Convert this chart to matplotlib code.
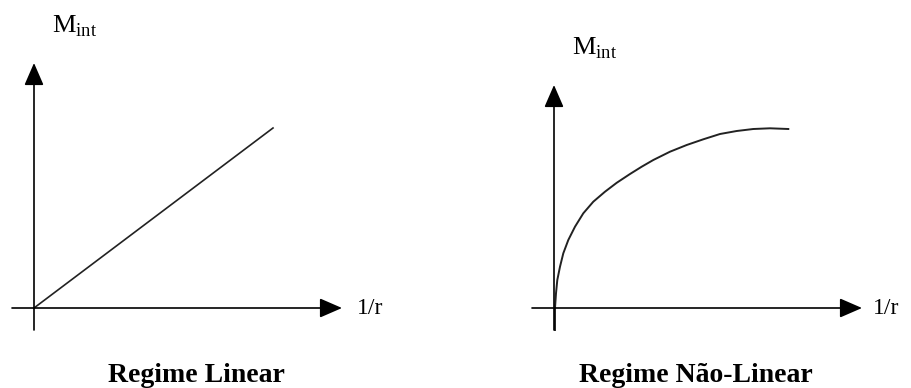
import matplotlib

matplotlib.use("Agg")
import matplotlib.pyplot as plt

plt.rcParams["font.family"] = ["Liberation Serif", "DejaVu Serif"]
plt.rcParams["mathtext.fontset"] = "custom"
plt.rcParams["mathtext.rm"] = "Liberation Serif"

# regime linear: reta pela origem
lin_x = [0.0, 2.39]
lin_y = [0.0, 1.80]

# regime nao-linear: pontos (satura)
nl_x = [0.01, 0.01, 0.01, 0.02, 0.033, 0.06, 0.093, 0.143, 0.21, 0.293,
        0.393, 0.51, 0.627, 0.76, 0.877, 0.993, 1.16, 1.327, 1.493, 1.66,
        1.827, 1.993, 2.16, 2.343]
nl_y = [-0.22, -0.12, 0.0, 0.147, 0.28, 0.413, 0.547, 0.68, 0.813, 0.947,
        1.063, 1.163, 1.252, 1.34, 1.413, 1.48, 1.563, 1.63, 1.687, 1.74,
        1.77, 1.79, 1.797, 1.79]

titles = ["Regime Linear", "Regime Não-Linear"]

ARROW = dict(arrowstyle="-|>,head_length=0.46,head_width=0.2",
             mutation_scale=30, lw=1.2, color="black",
             shrinkA=0, shrinkB=0)


def draw_axes(ax, xmin, xtip, ymin, ytip):
    ax.annotate("", xy=(xtip, 0), xytext=(xmin, 0), arrowprops=ARROW)
    ax.annotate("", xy=(0, ytip), xytext=(0, ymin), arrowprops=ARROW)


fig = plt.figure(figsize=(9.11, 3.88), dpi=100)
ax1 = fig.add_axes([0, 0, 0.5, 1])
ax2 = fig.add_axes([0.5, 0, 0.5, 1])
ax1.set_xlim(-0.34, 4.215)
ax2.set_xlim(-0.985, 3.57)
for ax in (ax1, ax2):
    ax.set_ylim(-0.80, 3.08)
    ax.axis("off")

draw_axes(ax1, -0.22, 3.08, -0.22, 2.45)
draw_axes(ax2, -0.22, 3.08, -0.22, 2.23)

ax1.plot(lin_x, lin_y, color="#222222", lw=1.2)
ax2.plot(nl_x, nl_y, color="#222222", lw=1.4, solid_joinstyle="round")

ax1.text(0.18, 2.75, r"$\mathrm{M}_{\mathrm{int}}$", fontsize=19, va="baseline")
ax2.text(0.18, 2.53, r"$\mathrm{M}_{\mathrm{int}}$", fontsize=19, va="baseline")
ax1.text(3.23, 0, "1/r", fontsize=17, va="center")
ax2.text(3.19, 0, "1/r", fontsize=17, va="center")

ax1.text(1.62, -0.74, titles[0], fontsize=20, fontweight="bold",
         ha="center", va="baseline")
ax2.text(1.415, -0.74, titles[1], fontsize=20, fontweight="bold",
         ha="center", va="baseline")

fig.savefig("out.png", dpi=100)
